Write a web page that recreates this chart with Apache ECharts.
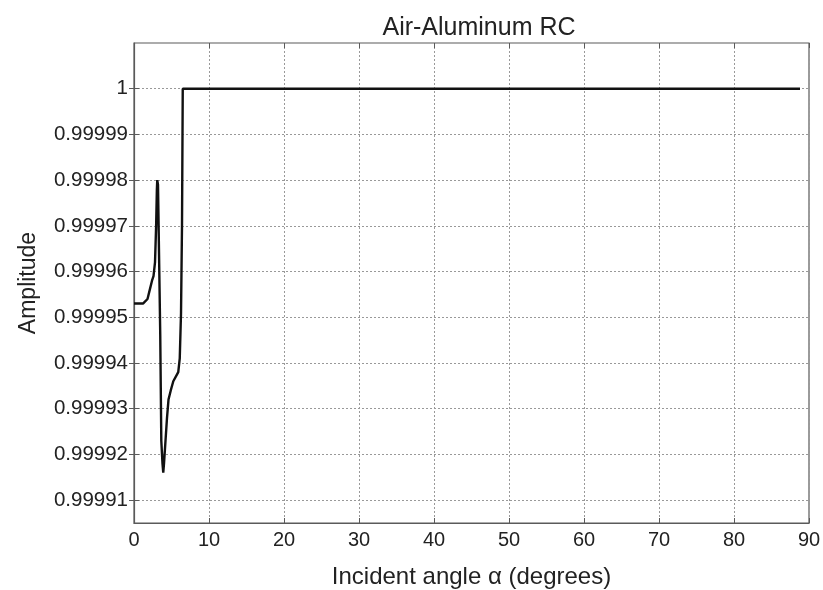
<!DOCTYPE html>
<html>
<head>
<meta charset="utf-8">
<script src="https://cdn.jsdelivr.net/npm/echarts@6/dist/echarts.min.js"></script>
<style>
  html, body { margin: 0; padding: 0; background: #fff; }
  #chart { width: 823px; height: 590px; }
</style>
</head>
<body>
<div id="chart"></div>
<script>
// Reflection coefficient amplitude versus incidence angle
const angles = [0, 1.2, 1.8, 2.1, 2.4, 2.6, 2.8, 2.95, 3.05, 3.1, 3.2, 3.5, 3.64, 3.8, 3.9, 4.0, 4.2, 4.4, 4.6, 4.9, 5.24, 5.9, 6.1, 6.27, 6.4, 6.5, 10, 20, 30, 40, 50, 60, 70, 80, 88.8];
const amplitude = [0.999953, 0.999953, 0.999954, 0.999956, 0.999958, 0.999959, 0.999962, 0.99997, 0.999978, 0.99998, 0.999979, 0.999946, 0.999923, 0.999918, 0.999916, 0.999918, 0.999923, 0.999928, 0.999932, 0.999934, 0.999936, 0.999938, 0.999941, 0.999951, 0.99997, 1, 1, 1, 1, 1, 1, 1, 1, 1, 1];

const xTicks = [0, 10, 20, 30, 40, 50, 60, 70, 80, 90];
const yTicks = [0.99991, 0.99992, 0.99993, 0.99994, 0.99995, 0.99996, 0.99997, 0.99998, 0.99999, 1];
const yRange = [0.999905, 1.00001];

const FONT = 'Liberation Sans, Arial, sans-serif';
const textColor = '#222';
const frameColor = '#5a5a5a';

const chart = echarts.init(document.getElementById('chart'), null, { renderer: 'canvas' });

const fmtY = v => String(parseFloat(Number(v).toFixed(5)));

chart.setOption({
  animation: false,
  backgroundColor: '#fff',
  title: {
    text: 'Air-Aluminum RC',
    left: 474, top: 11, textAlign: 'center',
    textStyle: { fontFamily: FONT, fontSize: 25, fontWeight: 'normal', color: textColor }
  },
  grid: {
    left: 134, right: 14, top: 43, bottom: 67,
    outerBoundsMode: 'none', containLabel: false,
    show: true, borderColor: frameColor, borderWidth: 1.2, backgroundColor: 'transparent'
  },
  xAxis: [{
    type: 'value', min: 0, max: 90, interval: 10,
    name: 'Incident angle \u03b1 (degrees)',
    nameLocation: 'middle', nameGap: 42,
    nameTextStyle: { fontFamily: FONT, fontSize: 24, color: textColor },
    axisLine: { lineStyle: { color: frameColor, width: 1.2 } },
    axisTick: { inside: true, length: 5, lineStyle: { color: frameColor } },
    axisLabel: { fontFamily: FONT, fontSize: 20, color: textColor, margin: 7, customValues: xTicks },
    splitLine: { show: true, lineStyle: { color: '#999', type: [2, 2], width: 1 } }
  }, {
    type: 'value', min: 0, max: 90, interval: 10, position: 'top',
    axisLine: { show: false },
    axisTick: { inside: true, length: 5, lineStyle: { color: frameColor } },
    axisLabel: { show: false },
    splitLine: { show: false }
  }],
  yAxis: [{
    type: 'value', min: yRange[0], max: yRange[1],
    name: 'Amplitude',
    nameLocation: 'middle', nameGap: 94, nameRotate: 90,
    nameTextStyle: { fontFamily: FONT, fontSize: 23, color: textColor },
    axisLine: { show: true, lineStyle: { color: frameColor, width: 1.2 } },
    axisTick: { inside: true, length: 5, customValues: yTicks, lineStyle: { color: frameColor } },
    axisLabel: {
      fontFamily: FONT, fontSize: 20.5, color: textColor, margin: 6,
      customValues: yTicks, formatter: fmtY, padding: [4, 0, 0, 0]
    },
    splitLine: { show: true, lineStyle: { color: '#999', type: [2, 2], width: 1 } }
  }, {
    type: 'value', min: yRange[0], max: yRange[1], position: 'right',
    axisLine: { show: false },
    axisTick: { show: true, inside: true, length: 5, customValues: yTicks, lineStyle: { color: frameColor } },
    axisLabel: { show: false, customValues: yTicks },
    splitLine: { show: false }
  }],
  series: [{
    type: 'line',
    data: angles.map((a, i) => [a, amplitude[i]]),
    showSymbol: false,
    smooth: false,
    lineStyle: { color: '#111', width: 2.4 },
    clip: true
  }]
});
</script>
</body>
</html>
